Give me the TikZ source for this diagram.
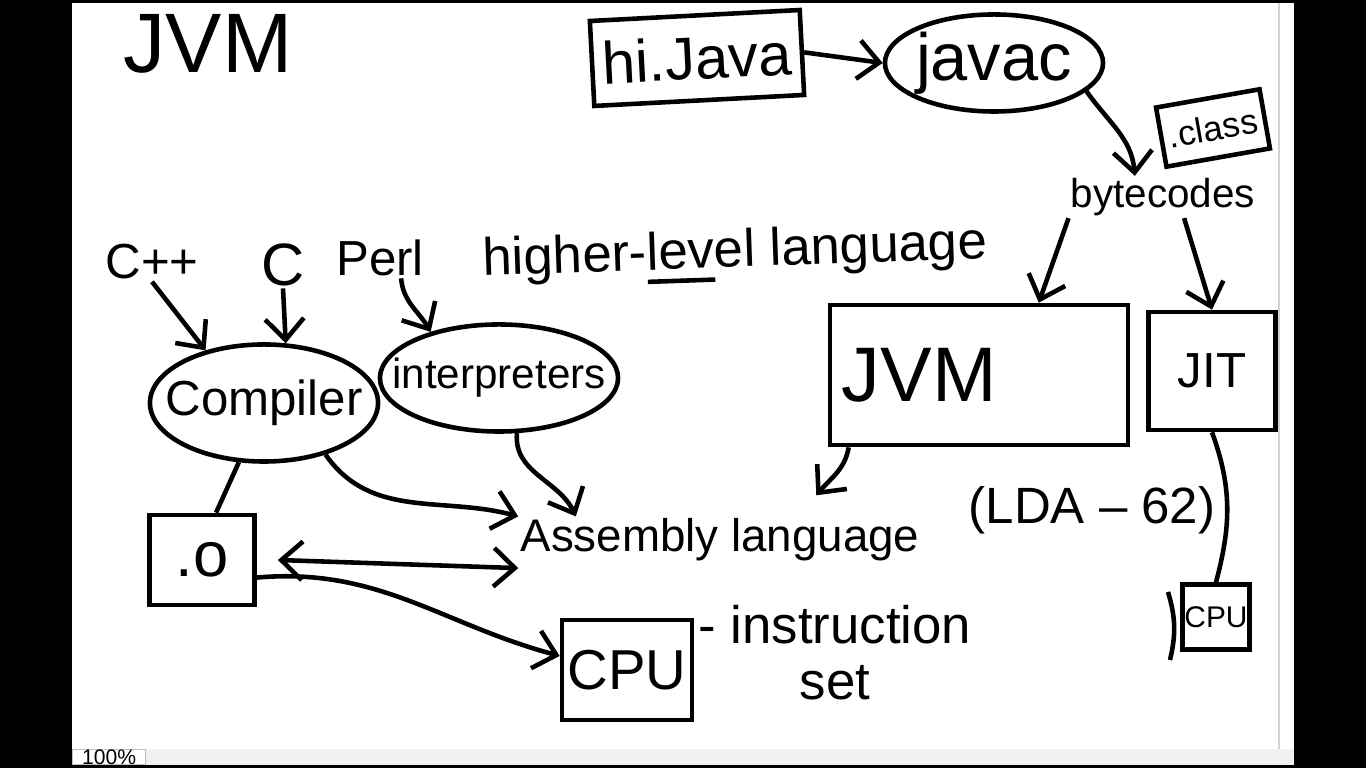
\documentclass[tikz,border=0pt]{standalone}
\usepackage{fontspec}
\setmainfont{Liberation Sans}
\usetikzlibrary{arrows.meta, shapes.geometric, positioning}
\newcommand\handul[1]{\setbox0\hbox{#1}\rlap{\rule[-4pt]{\wd0}{1.3pt}}#1}

\begin{document}
\begin{tikzpicture}[
    x=0.01cm, y=-0.01cm,
    line width=1.3pt,
    every node/.style={inner sep=0pt},
    arr/.style={-{Straight Barb[length=6pt,width=11pt]}},
    twoarr/.style={{Straight Barb[length=6pt,width=11pt]}-{Straight Barb[length=6pt,width=11pt]}},
    sketchbox/.style={draw, line width=1.3pt},
    sketchoval/.style={draw, ellipse, line width=1.3pt},
    hand/.style={font=\fontsize{#1}{#1}\selectfont}
]
    \useasboundingbox (0,0) rectangle (1366,768);
    % screen around the whiteboard
    \fill[black] (0,0) rectangle (1366,768);
    \fill[white] (72,3) rectangle (1294,749);
    \draw[gray!35, line width=0.6pt] (1279,3) -- (1279,749);
    \fill[gray!12] (72,749) rectangle (1294,765);
    \node[
        draw=gray!50,
        line width=0.4pt,
        fill=white,
        minimum width=0.73cm,
        minimum height=0.15cm,
        inner xsep=2pt,
        anchor=west,
        font=\fontsize{6}{6}\selectfont
    ] (zoombox) at (72,757) {100\%\hspace{2.6em}};

    % java side
    \node[hand=24] (title) at (208,44) {JVM};
    \node[
        sketchbox,
        rotate=3,
        minimum width=2.1cm,
        minimum height=0.85cm,
        hand=17
    ] (hijava) at (697,58) {hi.Java};
    \node[sketchoval, minimum width=2.18cm, minimum height=0.97cm] (javac) at (994,63) {};
    \node[hand=19] (javactext) at (javac) {javac};
    \node[
        sketchbox,
        rotate=10,
        minimum width=1.05cm,
        minimum height=0.6cm,
        hand=10
    ] (classbox) at (1213,128) {.class};
    \node[hand=11.5] (bytecodes) at (1163,197) {bytecodes};
    \node[
        sketchbox,
        minimum width=2.98cm,
        minimum height=1.4cm,
        inner xsep=0.12cm,
        text width=2.74cm,
        align=left,
        hand=22
    ] (jvm) at (979,375) {JVM};
    \node[
        sketchbox,
        minimum width=1.27cm,
        minimum height=1.18cm,
        hand=14
    ] (jit) at (1212,371) {JIT};
    \node[
        sketchbox,
        minimum width=0.67cm,
        minimum height=0.65cm,
        hand=8.5
    ] (cpusmall) at (1216,617) {CPU};

    % native side
    \node[hand=14] (cpp) at (152,262) {C++};
    \node[hand=17] (c) at (283,265) {C};
    \node[hand=14] (perl) at (380,258) {Perl};
    \node[hand=15, rotate=2] (higher) at (735,255) {higher-\handul{lev}el language};
    \node[sketchoval, minimum width=2.28cm, minimum height=1.17cm] (compiler) at (264,403) {};
    \node[hand=14] (compilertext) at (compiler) {Compiler};
    \node[sketchoval, minimum width=2.38cm, minimum height=1.07cm] (interp) at (499,378) {};
    \node[hand=12] (interptext) at (interp) {interpreters};
    \node[
        sketchbox,
        minimum width=1.05cm,
        minimum height=0.9cm,
        hand=18
    ] (obox) at (202,560) {.o};
    \node[hand=13] (asm) at (720,540) {Assembly language};
    \node[hand=14.5] (lda) at (1092,510) {(LDA -- 62)};
    \node[
        sketchbox,
        minimum width=1.3cm,
        minimum height=1.0cm,
        hand=16
    ] (cpu) at (627,670) {CPU};
    \node[align=center, font=\fontsize{15}{16}\selectfont] (instr) at (835,653) {- instruction\\set};

    % connectors
    \draw[arr] (hijava.east) -- (javac.west);
    \draw[arr] (javac.-17) to[out=-55, in=95] ([xshift=-8pt]bytecodes.north);
    \draw[arr] (bytecodes.south west) -- ([xshift=17pt]jvm.north);
    \draw[arr] ([xshift=6pt]bytecodes.south) -- (jit.north);
    \draw (jit.south) to[out=-70, in=75] (cpusmall.north);
    \draw (1168,592) to[bend left=15] (1170,660);

    \draw[arr] (cpp.south) -- (compiler.138);
    \draw[arr] (c.south) -- (compiler.70);
    \draw[arr] ([xshift=6pt]perl.south) to[out=-85, in=120] (interp.146);
    \draw (compiler.247) -- ([xshift=4pt]obox.north);
    \draw[arr] (compiler.-40) to[out=-55, in=165] (asm.north west);
    \draw[arr] (interp.-72) to[out=-95, in=115] ([xshift=-41pt]asm.north);
    \draw[twoarr] ([xshift=6pt]obox.east) -- ([yshift=-8pt]asm.west);
    \draw[arr] ([yshift=-5pt]obox.east) to[out=5, in=165] ([yshift=4pt]cpu.west);
    \draw[arr] ([xshift=6pt]jvm.south west) to[out=-100, in=50] ([xshift=-30pt, yshift=6pt]asm.north east);
\end{tikzpicture}
\end{document}
